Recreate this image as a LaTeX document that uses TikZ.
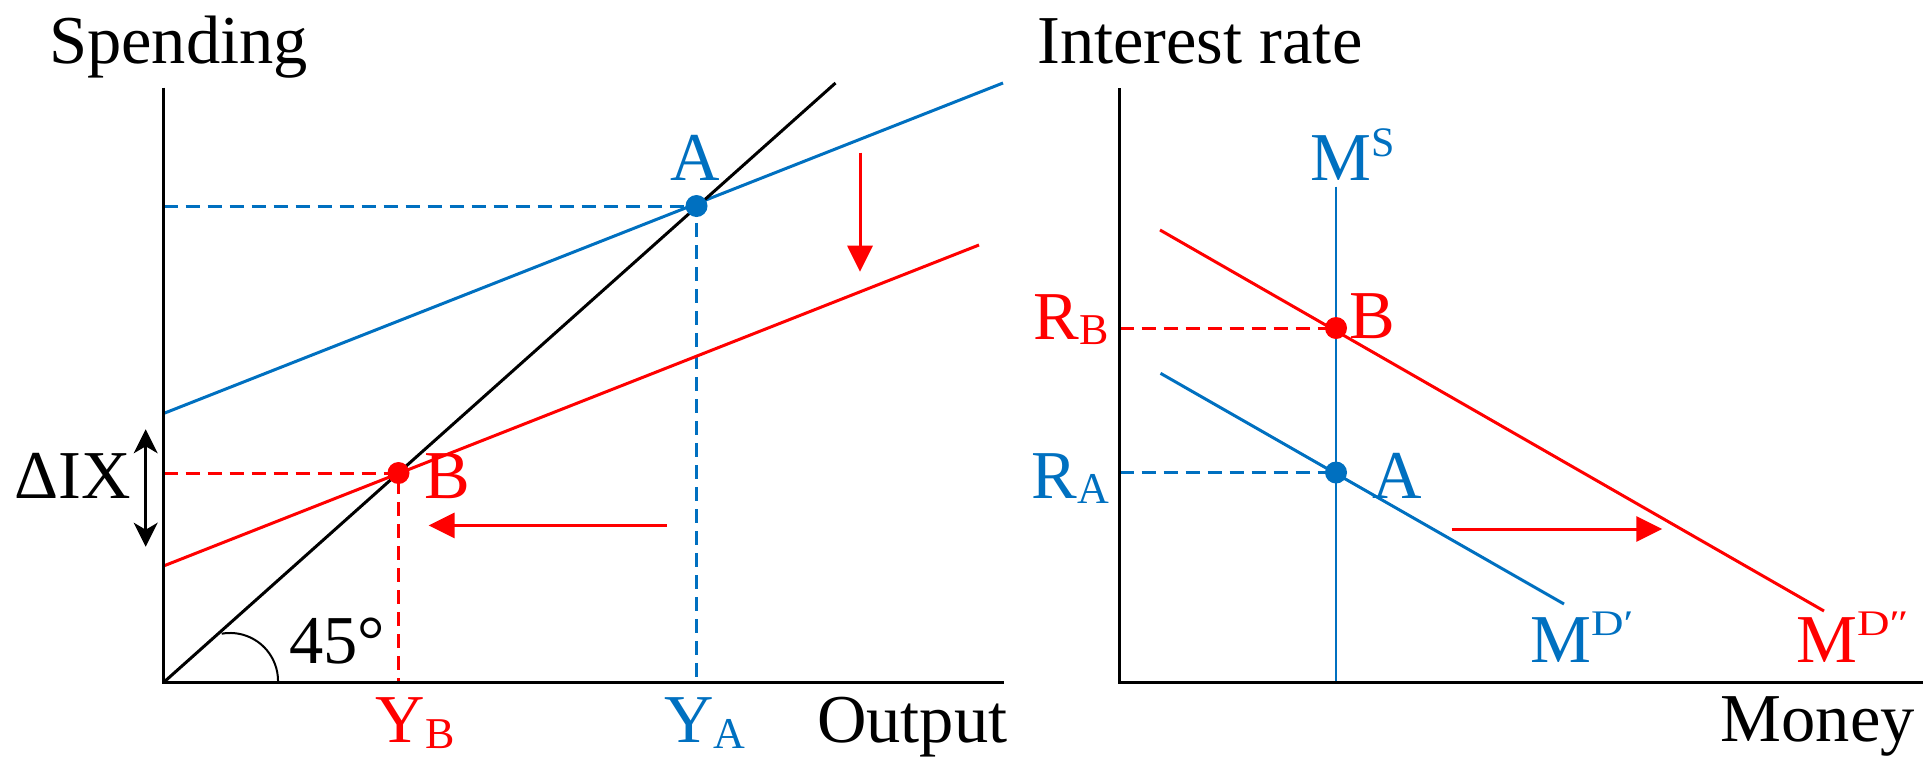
\documentclass[tikz,border=0pt]{standalone}
\usepackage{fontspec}
\usepackage{graphicx}
\setmainfont{LiberationSerif}[Extension=.ttf,UprightFont=*-Regular,BoldFont=*-Bold,ItalicFont=*-Italic]
\usetikzlibrary{arrows.meta}
\definecolor{pblue}{HTML}{0070C0}
\definecolor{pred}{HTML}{FF0000}
\newcommand\sbs[1]{\raisebox{-5.5pt}{\fontsize{44}{44}\selectfont #1}}
\newcommand\sps[1]{\raisebox{23.5pt}{\fontsize{42}{42}\selectfont #1}}
\newcommand\spd[1]{\raisebox{27pt}{\fontsize{36}{36}\selectfont\scalebox{1.25}[1]{#1}}}
\tikzset{
  axisline/.style={line width=3pt, black},
  curve/.style={line width=3pt},
  guide/.style={line width=3pt, dash pattern=on 14pt off 8pt},
  eqdot/.style={circle, fill, inner sep=0pt, minimum size=22pt},
  lbl/.style={anchor=base west, inner sep=0pt},
  shiftarrow/.style={line width=3pt, pred, -{Triangle[length=26pt,width=25pt]}},
  bothway/.style={line width=2.5pt, {Stealth[length=24pt,width=24pt,inset=7pt]}-{Stealth[length=24pt,width=24pt,inset=7pt]}}
}
\begin{document}
\begin{tikzpicture}[x=1pt,y=-1pt,font=\rmfamily\fontsize{68.5}{70}\selectfont]
\useasboundingbox (0,0) rectangle (1923,756);
% ---------- left panel ----------
\coordinate (O1) at (163.5,682.5);
\coordinate (Ytop1) at (163.5,87.5);
\coordinate (Xend1) at (1004,682.5);
\coordinate (L45) at (835.5,83);
\coordinate (bS) at (163.5,413.5);
\coordinate (bE) at (1003,83);
\coordinate (rS) at (163.5,566);
\coordinate (rE) at (979,245);
\coordinate (A1) at (696.5,206);
\coordinate (B1) at (398.5,473);
\coordinate (A1y) at (O1 |- A1);
\coordinate (A1x) at (A1 |- O1);
\coordinate (B1y) at (O1 |- B1);
\coordinate (B1x) at (B1 |- O1);

\draw[guide,pblue] (A1y) -- (A1) -- (A1x);
\draw[guide,pred] (B1y) -- (B1) -- (B1x);
\draw[curve,pblue] (bS) -- (bE);
\draw[curve,pred] (rS) -- (rE);
\draw[curve,black] (O1) -- (L45);
\draw[axisline] (Ytop1) -- (O1) -- (Xend1);
\draw[line width=2pt] (221.7,633.7) arc[start angle=100,end angle=0,radius=48pt];

\coordinate (dS) at (860,152.7);
\coordinate (dE) at (860,271.7);
\draw[shiftarrow] (dS) -- (dE);
\coordinate (lS) at (666.5,525.4);
\coordinate (lE) at (428.6,525.4);
\draw[shiftarrow] (lS) -- (lE);
\coordinate (ixT) at (145.7,429.3);
\coordinate (ixB) at (145.7,546.7);
\draw[bothway] (ixT) -- (ixB);

\node[eqdot,pblue] (dotA1) at (A1) {};
\node[eqdot,pred] (dotB1) at (B1) {};

\node[lbl] (spend) at (49,63.3) {Spending};
\node[lbl] (outp) at (817,742) {Output};
\node[lbl,pblue] (labA1) at (670.7,180) {A};
\node[lbl,pred] (labB1) at (424,498.3) {B};
\node[lbl] (dix) at (14,498.3) {ΔIX};
\node[lbl] (deg) at (289,663.3) {45°};
\node[lbl,pred] (yb) at (375.6,742.5) {Y\sbs{B}};
\node[lbl,pblue] (ya) at (664,742.5) {Y\sbs{A}};

% ---------- right panel ----------
\coordinate (O2) at (1119.5,682.5);
\coordinate (Ytop2) at (1119.5,88);
\coordinate (Xend2) at (1923,682.5);
\coordinate (msT) at (1336,186.5);
\coordinate (msB) at (1336,682.5);
\coordinate (mdrS) at (1160,230);
\coordinate (mdrE) at (1824,611);
\coordinate (mdbS) at (1160.5,373.3);
\coordinate (mdbE) at (1564,604);
\coordinate (B2) at (1336,328);
\coordinate (A2) at (1336,472.5);
\coordinate (B2y) at (O2 |- B2);
\coordinate (A2y) at (O2 |- A2);

\draw[guide,pred] (B2y) -- (B2);
\draw[guide,pblue] (A2y) -- (A2);
\draw[curve,pred] (mdrS) -- (mdrE);
\draw[curve,pblue] (mdbS) -- (mdbE);
\draw[line width=2.5pt,pblue] (msT) -- (msB);
\draw[axisline] (Ytop2) -- (O2) -- (Xend2);

\coordinate (rtS) at (1451.5,529);
\coordinate (rtE) at (1662.3,529);
\draw[shiftarrow] (rtS) -- (rtE);

\node[eqdot,pred] (dotB2) at (B2) {};
\node[eqdot,pblue] (dotA2) at (A2) {};

\node[lbl] (irate) at (1037,63.3) {Interest rate};
\node[lbl] (money) at (1720.5,741.7) {Money};
\node[lbl,pblue] (ms) at (1310,180) {M\sps{S}};
\node[anchor=base east,inner sep=0pt,pred] (rb) at (1109,339.3) {R\sbs{B}};
\node[anchor=base east,inner sep=0pt,pblue] (ra) at (1109,498.3) {R\sbs{A}};
\node[lbl,pred] (labB2) at (1349,338.3) {B};
\node[lbl,pblue] (labA2) at (1372,498.3) {A};
\node[lbl,pblue] (mdp) at (1530,662.7) {M\spd{D′}};
\node[lbl,pred] (mdpp) at (1796,662.7) {M\spd{D″}};
\end{tikzpicture}
\end{document}
